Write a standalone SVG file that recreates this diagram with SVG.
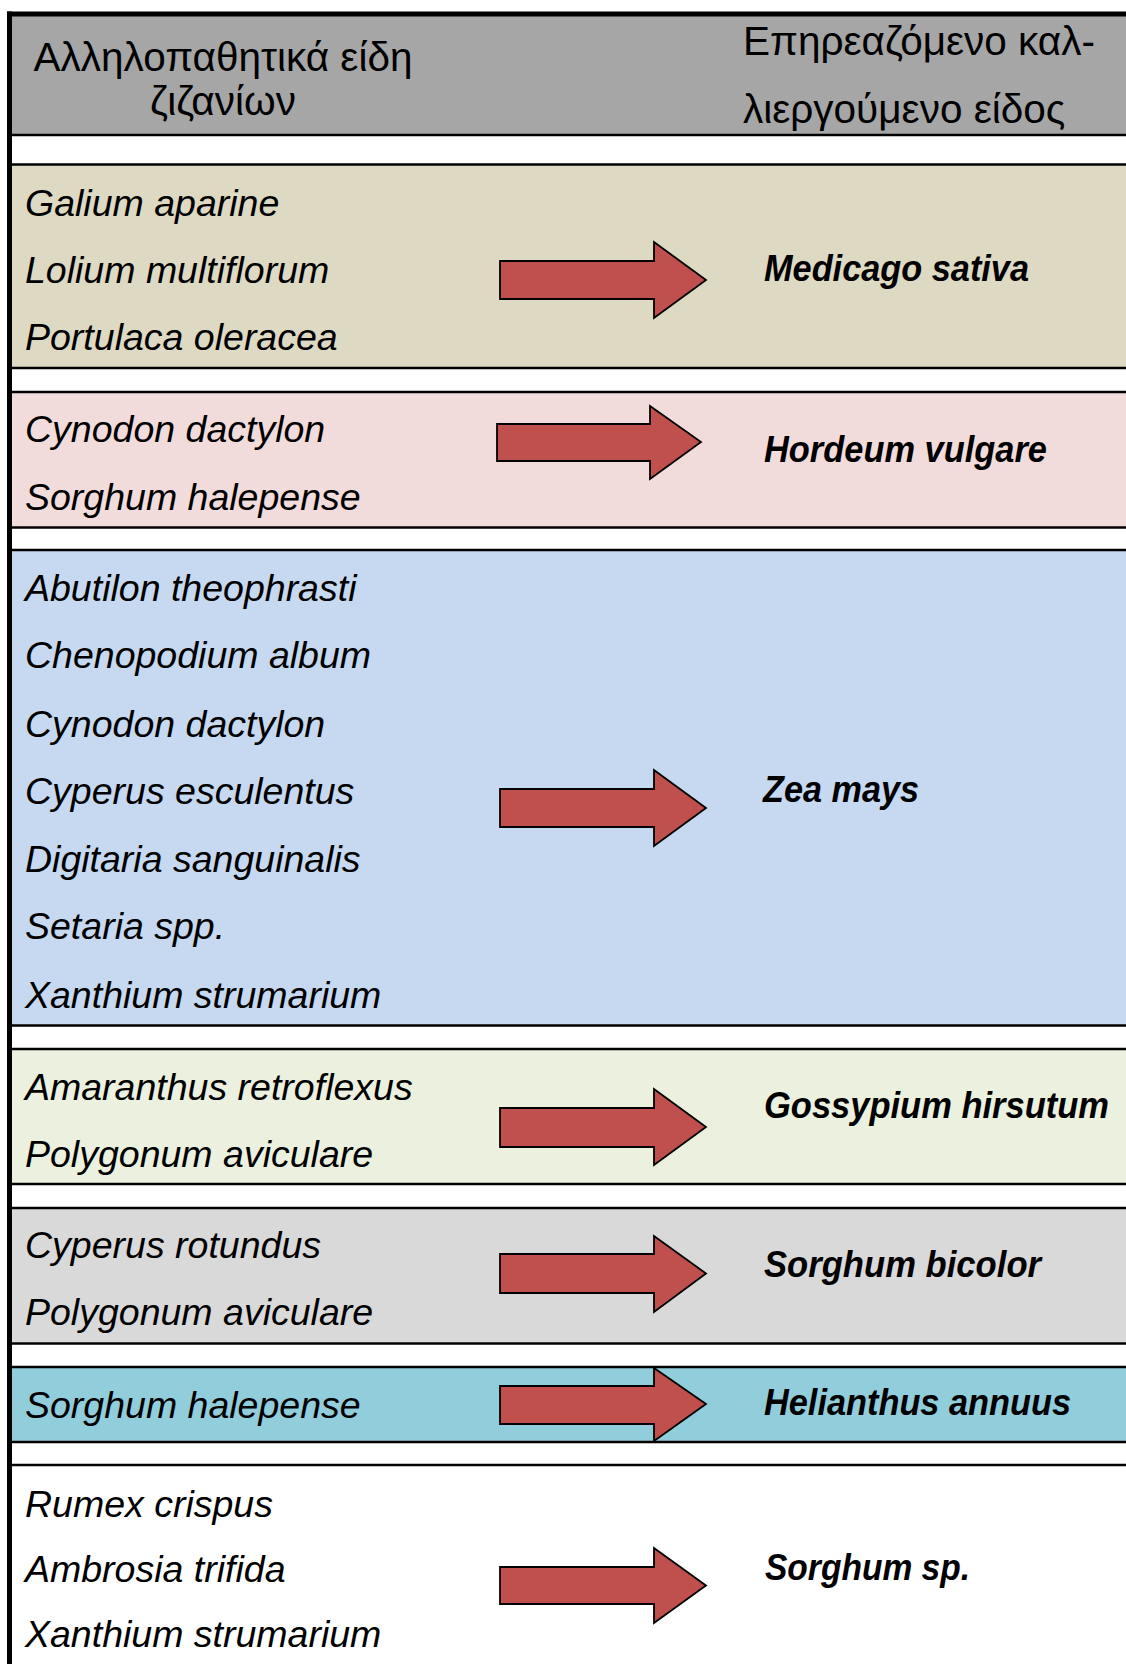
<svg xmlns="http://www.w3.org/2000/svg" width="1126" height="1664" viewBox="0 0 1126 1664">
<defs>
<style>
.row{stroke:#000;stroke-width:2.5}
.hdr{font-family:"Liberation Sans",Arial,sans-serif;font-size:40.5px;fill:#000}
.weed{font-family:"Liberation Sans",Arial,sans-serif;font-size:37.5px;font-style:italic;fill:#000}
.crop{font-family:"Liberation Sans",Arial,sans-serif;font-size:36.5px;font-style:italic;font-weight:bold;fill:#000}
.arrow{fill:#c0504d;stroke:#000;stroke-width:1.8;stroke-linejoin:miter}
</style>
</defs>
<rect x="0" y="0" width="1126" height="1664" fill="#fff"/>
<g id="header">
<rect x="9" y="14" width="1130" height="121" fill="#a6a6a6" class="row"/>
<text class="hdr" x="223" y="71" text-anchor="middle">Αλληλοπαθητικά είδη</text>
<text class="hdr" x="223" y="115" text-anchor="middle">ζιζανίων</text>
<text class="hdr" x="743" y="55">Επηρεαζόμενο καλ-</text>
<text class="hdr" x="743" y="123">λιεργούμενο είδος</text>
</g>
<g id="row-medicago">
<rect x="9" y="164.5" width="1130" height="203.5" fill="#ddd9c3" class="row"/>
<text class="weed" x="25" y="216">Galium aparine</text>
<text class="weed" x="25" y="283">Lolium multiflorum</text>
<text class="weed" x="25" y="350">Portulaca oleracea</text>
<text class="crop" x="764" y="281" textLength="265" lengthAdjust="spacingAndGlyphs">Medicago sativa</text>
</g>
<g id="row-hordeum">
<rect x="9" y="392" width="1130" height="135.5" fill="#f2dcdb" class="row"/>
<text class="weed" x="25" y="442">Cynodon dactylon</text>
<text class="weed" x="25" y="510">Sorghum halepense</text>
<text class="crop" x="764" y="462" textLength="283" lengthAdjust="spacingAndGlyphs">Hordeum vulgare</text>
</g>
<g id="row-zea">
<rect x="9" y="550" width="1130" height="475.5" fill="#c6d9f0" class="row"/>
<text class="weed" x="25" y="601">Abutilon theophrasti</text>
<text class="weed" x="25" y="668">Chenopodium album</text>
<text class="weed" x="25" y="737">Cynodon dactylon</text>
<text class="weed" x="25" y="804">Cyperus esculentus</text>
<text class="weed" x="25" y="872">Digitaria sanguinalis</text>
<text class="weed" x="25" y="939">Setaria spp.</text>
<text class="weed" x="25" y="1008">Xanthium strumarium</text>
<text class="crop" x="763" y="802" textLength="156" lengthAdjust="spacingAndGlyphs">Zea mays</text>
</g>
<g id="row-gossypium">
<rect x="9" y="1049" width="1130" height="135" fill="#ebf1de" class="row"/>
<text class="weed" x="25" y="1100">Amaranthus retroflexus</text>
<text class="weed" x="25" y="1167">Polygonum aviculare</text>
<text class="crop" x="764" y="1118" textLength="345" lengthAdjust="spacingAndGlyphs">Gossypium hirsutum</text>
</g>
<g id="row-sorghum-bicolor">
<rect x="9" y="1208" width="1130" height="135.5" fill="#d9d9d9" class="row"/>
<text class="weed" x="25" y="1258">Cyperus rotundus</text>
<text class="weed" x="25" y="1325">Polygonum aviculare</text>
<text class="crop" x="764" y="1277" textLength="277" lengthAdjust="spacingAndGlyphs">Sorghum bicolor</text>
</g>
<g id="row-helianthus">
<rect x="9" y="1367" width="1130" height="75" fill="#92cddc" class="row"/>
<text class="weed" x="25" y="1418">Sorghum halepense</text>
<text class="crop" x="764" y="1415" textLength="307" lengthAdjust="spacingAndGlyphs">Helianthus annuus</text>
</g>
<g id="row-sorghum-sp">
<rect x="9" y="1465" width="1130" height="220" fill="#ffffff" class="row"/>
<text class="weed" x="25" y="1517">Rumex crispus</text>
<text class="weed" x="25" y="1582">Ambrosia trifida</text>
<text class="weed" x="25" y="1647">Xanthium strumarium</text>
<text class="crop" x="765" y="1580" textLength="205" lengthAdjust="spacingAndGlyphs">Sorghum sp.</text>
</g>
<g id="frame">
<line x1="7" y1="14" x2="1126" y2="14" stroke="#000" stroke-width="5"/>
<line x1="9.5" y1="11.5" x2="9.5" y2="1664" stroke="#000" stroke-width="5"/>
</g>
<g id="connectors">
<polygon class="arrow" points="500,261 654,261 654,242 706,280 654,318 654,299 500,299"/>
<polygon class="arrow" points="497,424 650,424 650,406 701,442 650,479 650,461 497,461"/>
<polygon class="arrow" points="500,789 654,789 654,770 706,808 654,846 654,827 500,827"/>
<polygon class="arrow" points="500,1108 654,1108 654,1089 706,1127 654,1165 654,1147 500,1147"/>
<polygon class="arrow" points="500,1254 654,1254 654,1236 706,1273.5 654,1312 654,1293 500,1293"/>
<polygon class="arrow" points="500,1386 654,1386 654,1368 706,1404 654,1441 654,1424 500,1424"/>
<polygon class="arrow" points="500,1567 654,1567 654,1548 706,1585.5 654,1623 654,1604 500,1604"/>
</g>
</svg>
